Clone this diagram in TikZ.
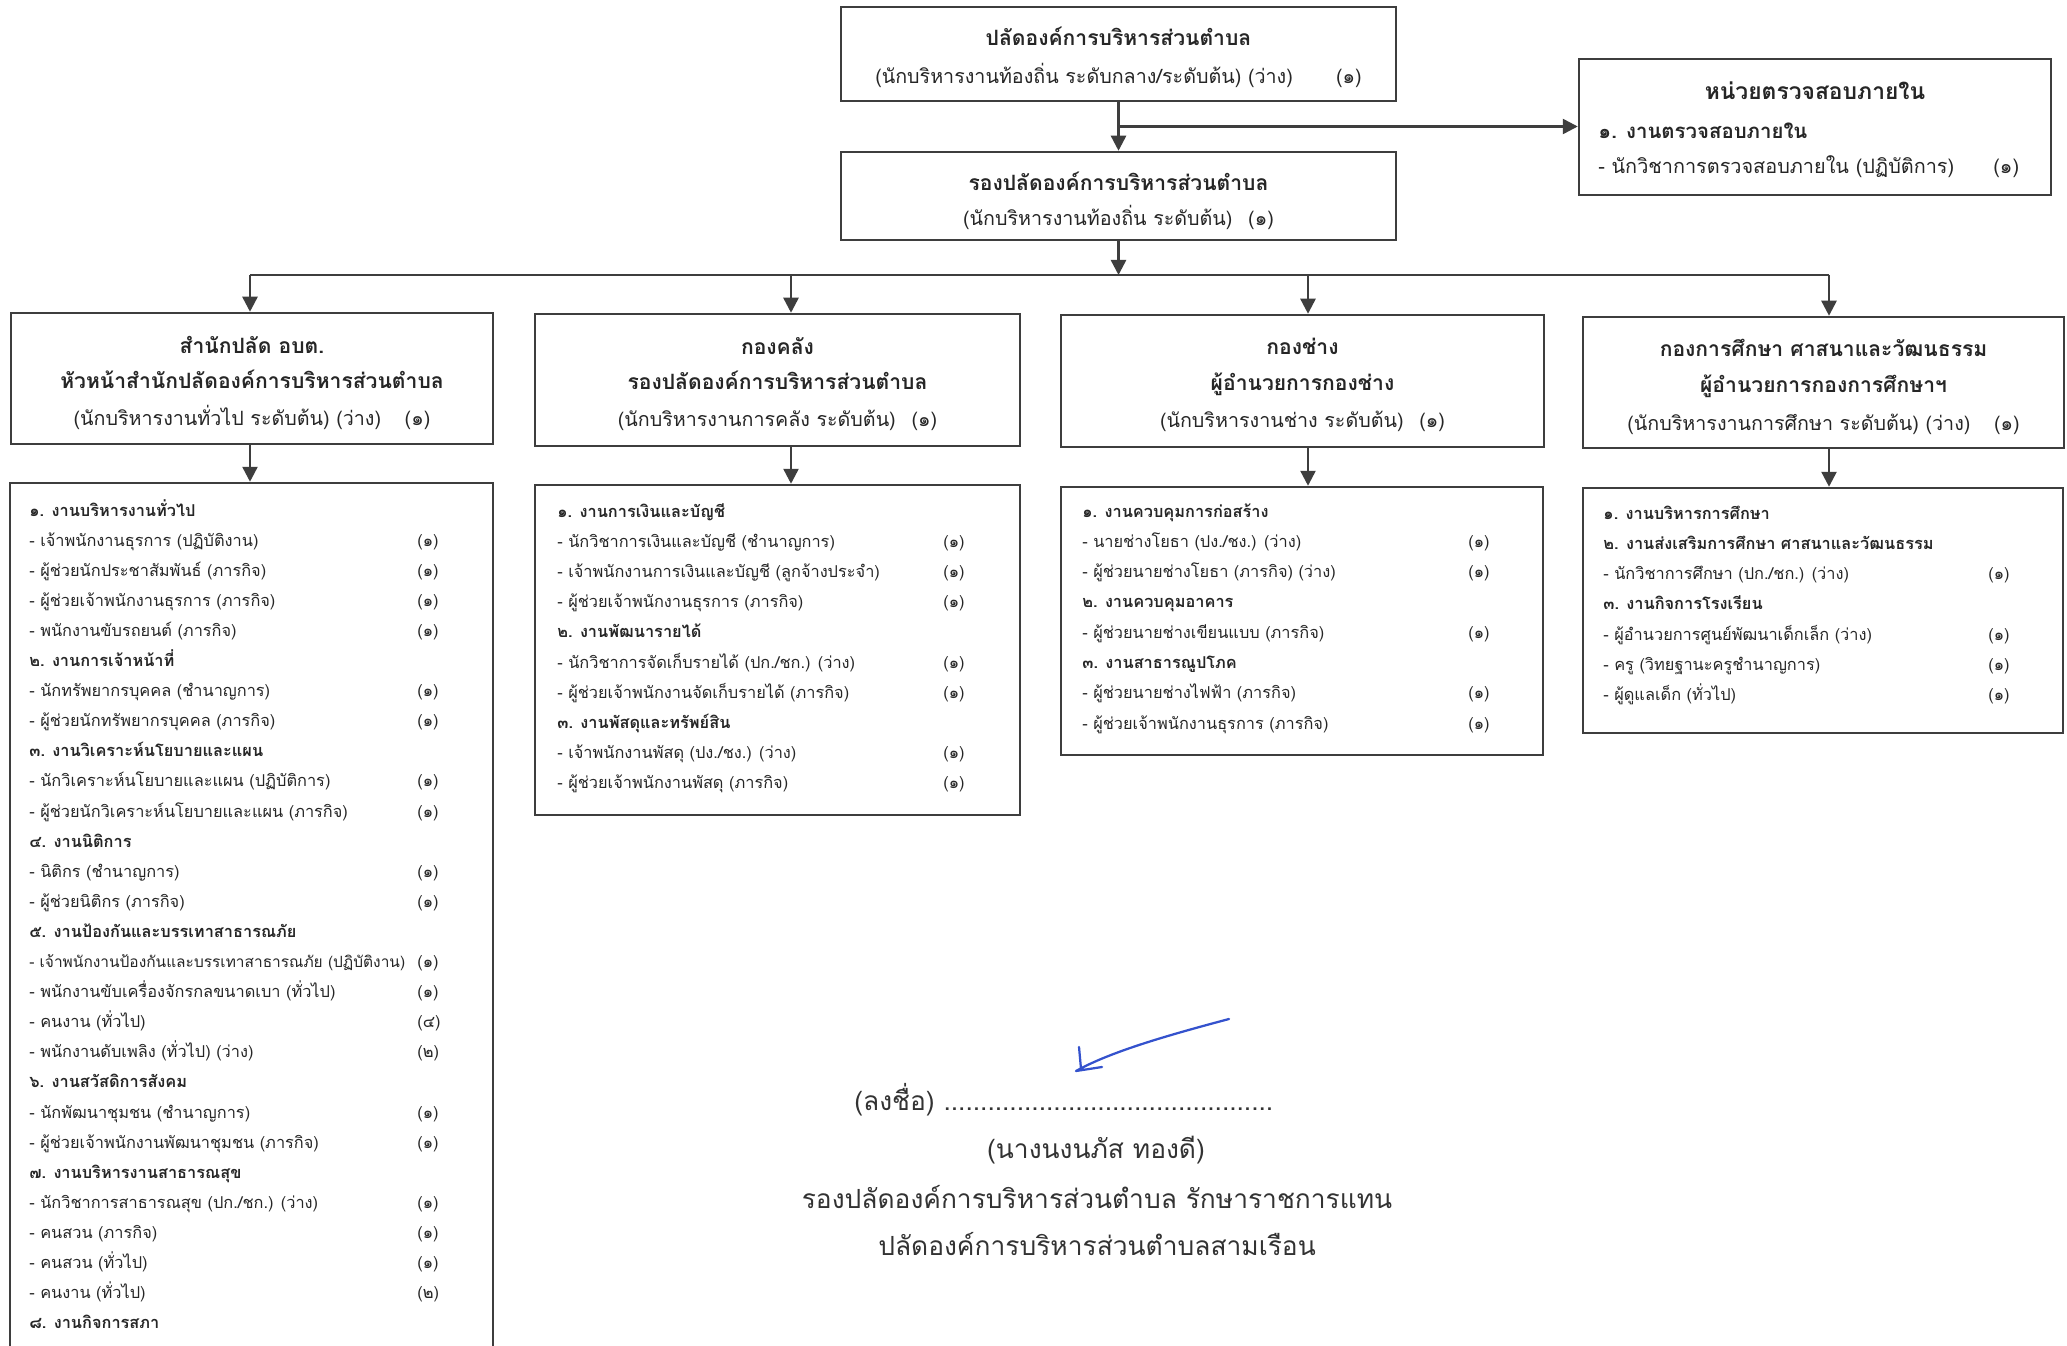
\documentclass[tikz,border=0pt]{standalone}
\usepackage{fontspec}
\setmainfont[Script=Thai]{Loma}
\usetikzlibrary{arrows.meta,fit,calc}

\definecolor{inkgray}{RGB}{62,62,62}
\definecolor{penblue}{RGB}{52,82,205}
\newcommand\rowfnt{\fontsize{9.3}{11}\selectfont}
\newcommand\ttlfnt{\fontsize{12}{14}\selectfont\bfseries}
\newcommand\subfnt{\fontsize{11.2}{13}\selectfont}
\newcommand\signfnt{\fontsize{15}{18}\selectfont}

\tikzset{
  box/.style={draw=inkgray, line width=0.5mm, inner sep=0pt},
  wire/.style={draw=inkgray, line width=0.5mm},
  arr/.style={wire, -{Triangle[length=3mm,width=3mm]}},
  ttl/.style={anchor=base, inner sep=0pt, text=black!85, font=\ttlfnt},
  sub/.style={anchor=base, inner sep=0pt, text=black!85, font=\subfnt},
  row/.style={anchor=base west, inner sep=0pt, text=black!85, font=\rowfnt},
  sign/.style={inner sep=0pt, text=black!80, font=\signfnt},
}

\begin{document}
\begin{tikzpicture}[x=0.2mm,y=-0.2mm]
\useasboundingbox[fill=white] (0,0) rectangle (2067,1346);

% top of the chart
\node[box, fit={(841,7) (1396,101)}] (top) {};
\node[ttl] (top1) at (top |- 0,46) {ปลัดองค์การบริหารส่วนตำบล};
\node[sub] (top2) at (top |- 0,84) {(นักบริหารงานท้องถิ่น ระดับกลาง/ระดับต้น) (ว่าง)\hspace{2.2em}(๑)};
\node[box, fit={(841,152) (1396,240)}] (vice) {};
\node[ttl] (vice1) at (vice |- 0,191) {รองปลัดองค์การบริหารส่วนตำบล};
\node[sub] (vice2) at (vice |- 0,226) {(นักบริหารงานท้องถิ่น ระดับต้น)\hspace{0.8em}(๑)};

\node[box, fit={(1579,59) (2051,195)}] (audit) {};
\node[ttl, font=\ttlfnt\fontsize{13}{15}\selectfont] (auditt) at (audit |- 0,100) {หน่วยตรวจสอบภายใน};
\node[row, font=\fontsize{11.6}{13}\selectfont\bfseries] (audith) at (1598,139) {๑. งานตรวจสอบภายใน};
\node[row, font=\fontsize{11.3}{13}\selectfont] (auditi) at (1598,174) {- นักวิชาการตรวจสอบภายใน (ปฏิบัติการ)};
\node[row, font=\fontsize{11.3}{13}\selectfont] (auditc) at (1993,174) {(๑)};

\draw[arr] (top) -- (vice);
\coordinate (j0) at ($(top.south)!0.5!(vice.north)$);
\draw[arr] (j0) -- (j0 -| audit.west);

% departments
\node[box, fit={(11,313) (493,444)}] (d1) {};
\node[box, fit={(535,314) (1020,446)}] (d2) {};
\node[box, fit={(1061,315) (1544,447)}] (d3) {};
\node[box, fit={(1583,317) (2064,448)}] (d4) {};
\node[ttl] (d1t1) at (d1 |- 0,354) {สำนักปลัด อบต.};
\node[ttl] (d1t2) at (d1 |- 0,389) {หัวหน้าสำนักปลัดองค์การบริหารส่วนตำบล};
\node[sub] (d1t3) at (d1 |- 0,426) {(นักบริหารงานทั่วไป ระดับต้น) (ว่าง)\hspace{1.2em}(๑)};
\node[ttl] (d2t1) at (d2 |- 0,355) {กองคลัง};
\node[ttl] (d2t2) at (d2 |- 0,390) {รองปลัดองค์การบริหารส่วนตำบล};
\node[sub] (d2t3) at (d2 |- 0,427) {(นักบริหารงานการคลัง ระดับต้น)\hspace{0.8em}(๑)};
\node[ttl] (d3t1) at (d3 |- 0,355) {กองช่าง};
\node[ttl] (d3t2) at (d3 |- 0,391) {ผู้อำนวยการกองช่าง};
\node[sub] (d3t3) at (d3 |- 0,428) {(นักบริหารงานช่าง ระดับต้น)\hspace{0.8em}(๑)};
\node[ttl] (d4t1) at (d4 |- 0,357) {กองการศึกษา ศาสนาและวัฒนธรรม};
\node[ttl] (d4t2) at (d4 |- 0,393) {ผู้อำนวยการกองการศึกษาฯ};
\node[sub] (d4t3) at (d4 |- 0,430) {(นักบริหารงานการศึกษา ระดับต้น) (ว่าง)\hspace{1.2em}(๑)};

\node[box, fit={(10,483) (493,1380)}] (l1) {};
\node[box, fit={(535,485) (1020,815)}] (l2) {};
\node[box, fit={(1061,487) (1543,755)}] (l3) {};
\node[box, fit={(1583,488) (2063,733)}] (l4) {};

\coordinate (bus) at (vice.south |- 0,275);
\draw[arr] (vice) -- (bus);
\draw[wire] (250,275) -- (1829,275);
\foreach \n/\x in {1/250, 2/791, 3/1308, 4/1829}
  {
    \coordinate (b\n) at (\x,275);
    \draw[arr] (b\n) -- (b\n |- d\n.north);
    \draw[arr] (b\n |- d\n.south) -- (b\n |- l\n.north);
  }

% staff lists
\foreach \t/\c [count=\i from 0] in {
  {\bfseries ๑. งานบริหารงานทั่วไป}/{},
  {- เจ้าพนักงานธุรการ (ปฏิบัติงาน)}/{(๑)},
  {- ผู้ช่วยนักประชาสัมพันธ์ (ภารกิจ)}/{(๑)},
  {- ผู้ช่วยเจ้าพนักงานธุรการ (ภารกิจ)}/{(๑)},
  {- พนักงานขับรถยนต์ (ภารกิจ)}/{(๑)},
  {\bfseries ๒. งานการเจ้าหน้าที่}/{},
  {- นักทรัพยากรบุคคล (ชำนาญการ)}/{(๑)},
  {- ผู้ช่วยนักทรัพยากรบุคคล (ภารกิจ)}/{(๑)},
  {\bfseries ๓. งานวิเคราะห์นโยบายและแผน}/{},
  {- นักวิเคราะห์นโยบายและแผน (ปฏิบัติการ)}/{(๑)},
  {- ผู้ช่วยนักวิเคราะห์นโยบายและแผน (ภารกิจ)}/{(๑)},
  {\bfseries ๔. งานนิติการ}/{},
  {- นิติกร (ชำนาญการ)}/{(๑)},
  {- ผู้ช่วยนิติกร (ภารกิจ)}/{(๑)},
  {\bfseries ๕. งานป้องกันและบรรเทาสาธารณภัย}/{},
  {\fontsize{8.8}{11}\selectfont - เจ้าพนักงานป้องกันและบรรเทาสาธารณภัย (ปฏิบัติงาน)}/{(๑)},
  {- พนักงานขับเครื่องจักรกลขนาดเบา (ทั่วไป)}/{(๑)},
  {- คนงาน (ทั่วไป)}/{(๔)},
  {- พนักงานดับเพลิง (ทั่วไป) (ว่าง)}/{(๒)},
  {\bfseries ๖. งานสวัสดิการสังคม}/{},
  {- นักพัฒนาชุมชน (ชำนาญการ)}/{(๑)},
  {- ผู้ช่วยเจ้าพนักงานพัฒนาชุมชน (ภารกิจ)}/{(๑)},
  {\bfseries ๗. งานบริหารงานสาธารณสุข}/{},
  {- นักวิชาการสาธารณสุข (ปก./ชก.) (ว่าง)}/{(๑)},
  {- คนสวน (ภารกิจ)}/{(๑)},
  {- คนสวน (ทั่วไป)}/{(๑)},
  {- คนงาน (ทั่วไป)}/{(๒)},
  {\bfseries ๘. งานกิจการสภา}/{}}
  {
    \node[row] (l1r\i) at (29,{516+30.1*\i}) {\t};
    \ifx\c\empty\else\node[row] (l1c\i) at (417,{516+30.1*\i}) {\c};\fi
  }

\foreach \t/\c [count=\i from 0] in {
  {\bfseries ๑. งานการเงินและบัญชี}/{},
  {- นักวิชาการเงินและบัญชี (ชำนาญการ)}/{(๑)},
  {- เจ้าพนักงานการเงินและบัญชี (ลูกจ้างประจำ)}/{(๑)},
  {- ผู้ช่วยเจ้าพนักงานธุรการ (ภารกิจ)}/{(๑)},
  {\bfseries ๒. งานพัฒนารายได้}/{},
  {- นักวิชาการจัดเก็บรายได้ (ปก./ชก.) (ว่าง)}/{(๑)},
  {- ผู้ช่วยเจ้าพนักงานจัดเก็บรายได้ (ภารกิจ)}/{(๑)},
  {\bfseries ๓. งานพัสดุและทรัพย์สิน}/{},
  {- เจ้าพนักงานพัสดุ (ปง./ชง.) (ว่าง)}/{(๑)},
  {- ผู้ช่วยเจ้าพนักงานพัสดุ (ภารกิจ)}/{(๑)}}
  {
    \node[row] (l2r\i) at (557,{517+30.2*\i}) {\t};
    \ifx\c\empty\else\node[row] (l2c\i) at (943,{517+30.2*\i}) {\c};\fi
  }

\foreach \t/\c [count=\i from 0] in {
  {\bfseries ๑. งานควบคุมการก่อสร้าง}/{},
  {- นายช่างโยธา (ปง./ชง.) (ว่าง)}/{(๑)},
  {- ผู้ช่วยนายช่างโยธา (ภารกิจ) (ว่าง)}/{(๑)},
  {\bfseries ๒. งานควบคุมอาคาร}/{},
  {- ผู้ช่วยนายช่างเขียนแบบ (ภารกิจ)}/{(๑)},
  {\bfseries ๓. งานสาธารณูปโภค}/{},
  {- ผู้ช่วยนายช่างไฟฟ้า (ภารกิจ)}/{(๑)},
  {- ผู้ช่วยเจ้าพนักงานธุรการ (ภารกิจ)}/{(๑)}}
  {
    \node[row] (l3r\i) at (1082,{517+30.3*\i}) {\t};
    \ifx\c\empty\else\node[row] (l3c\i) at (1468,{517+30.3*\i}) {\c};\fi
  }

\foreach \t/\c [count=\i from 0] in {
  {\bfseries ๑. งานบริหารการศึกษา}/{},
  {\bfseries ๒. งานส่งเสริมการศึกษา ศาสนาและวัฒนธรรม}/{},
  {- นักวิชาการศึกษา (ปก./ชก.) (ว่าง)}/{(๑)},
  {\bfseries ๓. งานกิจการโรงเรียน}/{},
  {- ผู้อำนวยการศูนย์พัฒนาเด็กเล็ก (ว่าง)}/{(๑)},
  {- ครู (วิทยฐานะครูชำนาญการ)}/{(๑)},
  {- ผู้ดูแลเด็ก (ทั่วไป)}/{(๑)}}
  {
    \node[row] (l4r\i) at (1603,{519+30.3*\i}) {\t};
    \ifx\c\empty\else\node[row] (l4c\i) at (1988,{519+30.3*\i}) {\c};\fi
  }

% signature
\draw[penblue, line width=0.45mm, line cap=round, line join=round]
  (1229,1019) .. controls (1165,1036) and (1110,1052) .. (1076,1071) -- (1102,1067);
\draw[penblue, line width=0.45mm, line cap=round] (1079,1047) -- (1081,1069);
\node[sign, anchor=base west] (sig1) at (854,1110) {(ลงชื่อ) .............................................};
\node[sign, anchor=base] (sig2) at (1096,1158) {(นางนงนภัส ทองดี)};
\node[sign, anchor=base] (sig3) at (1097,1208) {รองปลัดองค์การบริหารส่วนตำบล รักษาราชการแทน};
\node[sign, anchor=base] (sig4) at (1097,1255) {ปลัดองค์การบริหารส่วนตำบลสามเรือน};
\end{tikzpicture}
\end{document}
